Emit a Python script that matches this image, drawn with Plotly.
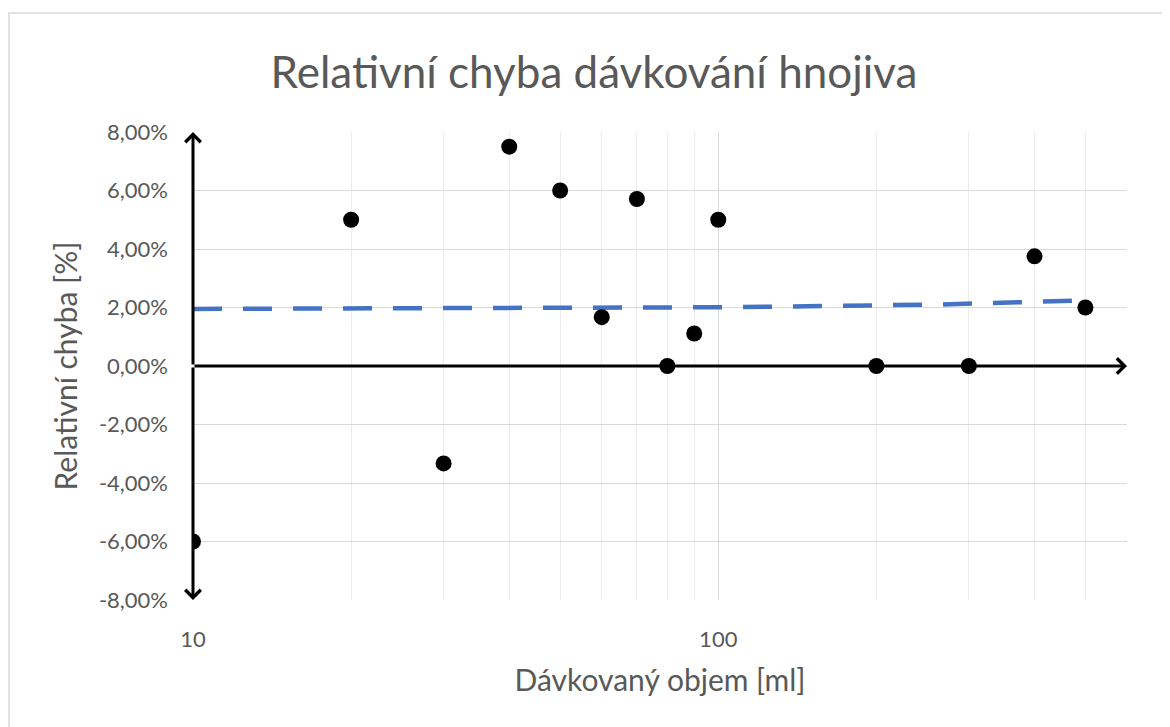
import numpy as np
import plotly.graph_objects as go

# Data
volume_ml = [10, 20, 30, 40, 50, 60, 70, 80, 90, 100, 200, 300, 400, 500]
rel_error_pct = [-6.0, 5.0, -3.33, 7.5, 6.0, 1.67, 5.71, 0.0, 1.11, 5.0, 0.0, 0.0, 3.75, 2.0]

x_major = [10, 100]
x_minor = [20, 30, 40, 50, 60, 70, 80, 90, 200, 300, 400, 500, 600]
x_ticktext = ["10", "100"]
y_ticks = [-8, -6, -4, -2, 0, 2, 4, 6, 8]
y_ticktext = ["-8,00%", "-6,00%", "-4,00%", "-2,00%", "0,00%", "2,00%", "4,00%", "6,00%", "8,00%"]

title_text = "Relativní chyba dávkování hnojiva"
x_title = "Dávkovaný objem [ml]"
y_title = "Relativní chyba [%]"

# Linear trendline (as in Excel), drawn on log axis
slope, intercept = np.polyfit(volume_ml, rel_error_pct, 1)
trend_x = np.linspace(min(volume_ml), max(volume_ml), 400)
trend_y = slope * trend_x + intercept

W, H = 1162, 719
L, R, T, B = 185, 43, 124, 127
FONT = "Lato"
GREY = "#595959"

fig = go.Figure()
fig.add_trace(go.Scatter(
    x=trend_x, y=trend_y, mode="lines",
    line=dict(color="#4472C4", width=4.5, dash="29px,21px"),
    hoverinfo="skip", showlegend=False,
))
fig.add_trace(go.Scatter(
    x=volume_ml, y=rel_error_pct, mode="markers",
    marker=dict(color="black", size=16),
    showlegend=False,
))

xmin, xmax = 10, 600
fig.update_xaxes(
    type="log", range=[np.log10(xmin), np.log10(xmax)],
    tickmode="array", tickvals=x_major, ticktext=x_ticktext,
    showgrid=True, gridcolor="#d9d9d9", gridwidth=1,
    minor=dict(tickmode="array", tickvals=x_minor, showgrid=True,
               gridcolor="#ececec", gridwidth=1, ticks=""),
    ticks="", ticklabelstandoff=24,
    tickfont=dict(family=FONT, size=22, color=GREY),
    title=dict(text=x_title, font=dict(family=FONT, size=30, color=GREY), standoff=18),
    showline=False, zeroline=False,
)
fig.update_yaxes(
    range=[-8, 8], tickmode="array", tickvals=y_ticks, ticktext=y_ticktext,
    showgrid=True, gridcolor="#d9d9d9", gridwidth=1,
    ticks="", ticklabelstandoff=24,
    tickfont=dict(family=FONT, size=22, color=GREY),
    title=dict(text=y_title, font=dict(family=FONT, size=30, color=GREY), standoff=12),
    showline=False, zeroline=False,
)

# Axis arrows
lx = np.log10(xmin)
arrows = [
    dict(x=lx, y=8, ax=lx, ay=0),
    dict(x=lx, y=-8, ax=lx, ay=0),
    dict(x=np.log10(xmax), y=0, ax=lx, ay=0),
]
for a in arrows:
    fig.add_annotation(
        x=a["x"], y=a["y"], ax=a["ax"], ay=a["ay"],
        xref="x", yref="y", axref="x", ayref="y",
        showarrow=True, arrowhead=4, arrowsize=1.0, arrowwidth=3,
        arrowcolor="black", text="", standoff=0, startstandoff=0,
    )

# Chart area border
pw, ph = W - L - R, H - T - B
fig.add_shape(
    type="rect", xref="paper", yref="paper",
    x0=(1 - L) / pw, x1=(W + 10 - L) / pw,
    y0=(H - B - (H + 10)) / ph, y1=(H - B - 5) / ph,
    line=dict(color="#d9d9d9", width=1.5), fillcolor="rgba(0,0,0,0)", layer="below",
)

fig.update_layout(
    width=W, height=H,
    margin=dict(l=L, r=R, t=T, b=B),
    paper_bgcolor="white", plot_bgcolor="white",
    title=dict(text=title_text, x=586 / W, xanchor="center", xref="container",
               y=1 - 65 / H, yanchor="middle", yref="container",
               font=dict(family=FONT, size=44, color=GREY)),
    showlegend=False,
)

fig.write_html("out.html")
